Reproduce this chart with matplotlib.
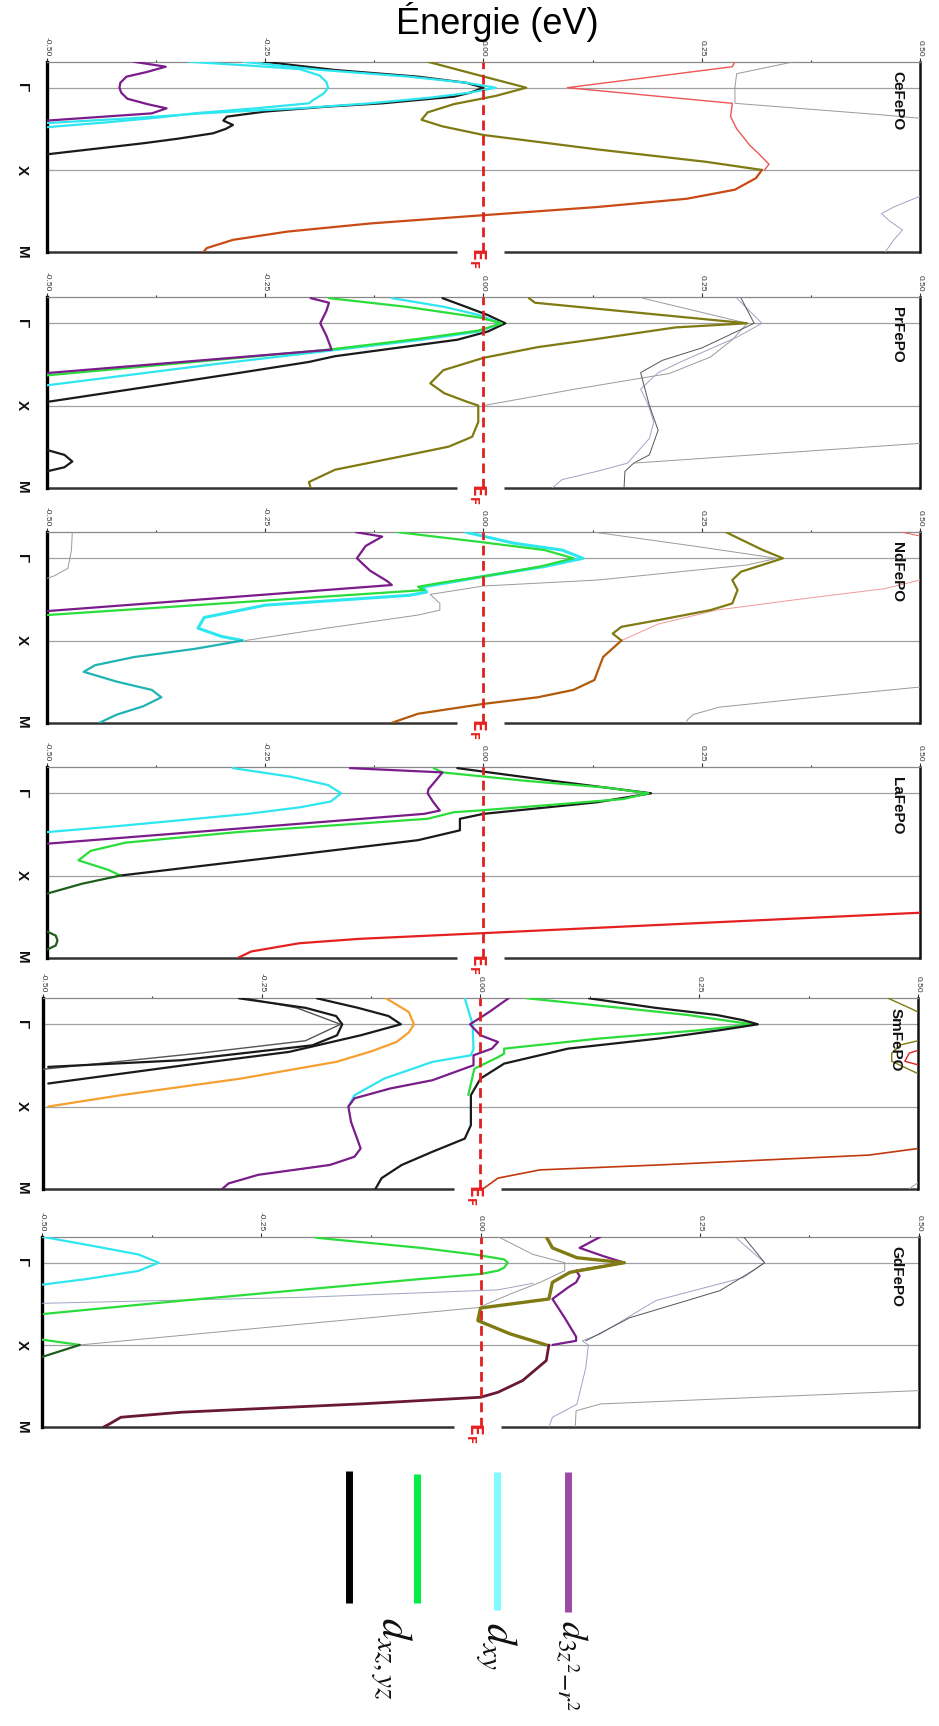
import matplotlib
matplotlib.use("Agg")
import matplotlib.pyplot as plt
from matplotlib.transforms import blended_transform_factory

plt.rcParams['font.family'] = ['Liberation Sans', 'DejaVu Sans']

# ---------------- labels ----------------
PANELS = ["CeFePO", "PrFePO", "NdFePO", "LaFePO", "SmFePO", "GdFePO"]
E_TICKS = [-0.5, -0.25, 0.0, 0.25, 0.5]
E_TICK_LABELS = ["-0.50", "-0.25", "0.00", "0.25", "0.50"]
E_MINOR = [-0.375, -0.125, 0.125, 0.375]
K_TICKS = [0, 1, 2]
K_LABELS = ["Γ", "X", "M"]
TITLE = "Énergie (eV)"
LEGEND_LABELS = [r"$d_{xz,yz}$", r"$d_{xy}$", r"$d_{3z^2\mathrm{-}r^2}$"]
LEGEND_COLORS = ["#000000", "#00ee44", "#80fbff", "#9d4aa4"]

# ---------------- colours ----------------
PURPLE = '#7a1c8a'; CYAN = '#2ee6f0'; GREEN = '#2add3a'; BLACK = '#1a1a1a'
OLIVE = '#7f7a12'; ORANGE_RED = '#c84a14'; RED_THIN = '#ee5555'; GRAY = '#9a9a9a'
BLUEGRAY = '#9ea4c4'; DARKGRAY = '#555555'; TEAL = '#1fb3b3'; BROWN = '#b05a0a'
PINK = '#f29a9a'; ORANGE = '#f5a030'; MAROON = '#6a1838'; DKGREEN = '#1d5e1d'
RED = '#e42020'; REDBROWN = '#c03a10'

# ================= CeFePO =================
ce_k_purple = [-0.316, -0.255, -0.19, -0.134, -0.06, 0, 0.06, 0.134, 0.20, 0.251, 0.312, 0.40]
ce_e_purple = [-0.401, -0.364, -0.386, -0.409, -0.416, -0.417, -0.415, -0.408, -0.385, -0.363, -0.38, -0.5]
ce_k_cyanA = [-0.316, -0.215, -0.134, -0.06, 0, 0.06, 0.12, 0.19, 0.25, 0.31, 0.37, 0.43]
ce_e_cyanA = [-0.276, -0.185, -0.085, -0.02, 0.014, -0.015, -0.06, -0.13, -0.21, -0.32, -0.40, -0.5]
ce_k_cyanB = [-0.316, -0.27, -0.227, -0.15, -0.07, 0, 0.07, 0.15, 0.19, 0.25, 0.31, 0.36, 0.42, 0.48]
ce_e_cyanB = [-0.338, -0.27, -0.211, -0.188, -0.18, -0.178, -0.183, -0.195, -0.20, -0.26, -0.33, -0.37, -0.43, -0.5]
ce_k_black = [-0.316, -0.215, -0.134, -0.06, 0, 0.06, 0.109, 0.19, 0.231, 0.29, 0.352, 0.40, 0.453, 0.50, 0.555, 0.62, 0.676, 0.81]
ce_e_black = [-0.252, -0.17, -0.075, -0.02, 0.0, -0.015, -0.034, -0.116, -0.18, -0.25, -0.294, -0.298, -0.287, -0.295, -0.31, -0.35, -0.39, -0.5]
ce_k_olive = [-0.316, -0.15, 0, 0.1, 0.2, 0.3, 0.39, 0.47, 0.575, 0.75, 0.9, 1.0]
ce_e_olive = [-0.064, -0.005, 0.049, 0.014, -0.034, -0.064, -0.071, -0.047, 0.0, 0.13, 0.254, 0.319]
ce_k_orange = [1.0, 1.1, 1.24, 1.35, 1.45, 1.55, 1.65, 1.75, 1.85, 1.95, 2.0]
ce_e_orange = [0.319, 0.312, 0.288, 0.233, 0.131, 0.0, -0.129, -0.225, -0.287, -0.317, -0.321]
ce_k_red = [-0.316, -0.255, 0, 0.19, 0.35, 0.5, 0.7, 0.8, 0.93, 1.0]
ce_e_red = [0.288, 0.285, 0.096, 0.285, 0.283, 0.29, 0.305, 0.315, 0.327, 0.322]
ce_k_gray = [-0.316, -0.25, -0.17, 0, 0.19, 0.33, 0.40]
ce_e_gray = [0.356, 0.326, 0.29, 0.288, 0.288, 0.456, 0.53]
ce_k_bgray = [1.28, 1.32, 1.45, 1.53, 1.62, 1.73, 1.85, 2.0]
ce_e_bgray = [0.53, 0.5, 0.47, 0.456, 0.465, 0.48, 0.47, 0.46]

# ================= PrFePO =================
pr_k_purple = [-0.306, -0.25, -0.15, 0, 0.15, 0.32, 0.605]
pr_e_purple = [-0.198, -0.177, -0.18, -0.187, -0.18, -0.174, -0.5]
pr_k_green = [-0.306, -0.2, -0.073, 0, 0.089, 0.19, 0.32, 0.633]
pr_e_green = [-0.177, -0.088, -0.006, 0.021, -0.006, -0.075, -0.177, -0.5]
pr_k_cyan = [-0.306, -0.2, -0.1, 0, 0.1, 0.2, 0.35, 0.5, 0.754]
pr_e_cyan = [-0.105, -0.045, -0.005, 0.02, -0.005, -0.07, -0.19, -0.31, -0.5]
pr_k_black = [-0.306, -0.2, -0.1, 0, 0.1, 0.2, 0.3, 0.4, 0.47, 0.6, 0.75, 0.956]
pr_e_black = [-0.047, -0.02, 0.005, 0.025, 0.005, -0.03, -0.10, -0.17, -0.20, -0.278, -0.371, -0.5]
pr_k_olive = [-0.306, -0.25, 0, 0.05, 0.19, 0.29, 0.42, 0.57, 0.73, 0.85, 0.95, 1.0, 1.2, 1.38, 1.5, 1.62, 1.78, 1.93, 2.0]
pr_e_olive = [0.052, 0.059, 0.302, 0.22, 0.13, 0.062, 0.0, -0.046, -0.061, -0.045, -0.02, -0.006, -0.006, -0.013, -0.04, -0.095, -0.17, -0.2, -0.198]
pr_k_graya = [-0.306, 0, 0.2, 0.41, 0.61, 0.8, 1.0]
pr_e_graya = [0.182, 0.302, 0.285, 0.26, 0.213, 0.105, 0.0]
pr_k_bgray = [-0.306, 0, 0.17, 0.45, 0.6, 0.8, 1.0, 1.2, 1.4, 1.7, 1.8, 1.9, 2.0]
pr_e_bgray = [0.29, 0.319, 0.29, 0.23, 0.2, 0.18, 0.189, 0.195, 0.19, 0.165, 0.13, 0.09, 0.079]
pr_k_dgray = [-0.306, 0, 0.15, 0.3, 0.45, 0.6, 0.8, 1.0, 1.3, 1.6, 1.7, 1.8, 2.0]
pr_e_dgray = [0.295, 0.31, 0.28, 0.25, 0.205, 0.18, 0.185, 0.19, 0.2, 0.19, 0.172, 0.162, 0.161]
pr_k_grayd = [1.46, 1.70]
pr_e_grayd = [0.5, 0.172]
pr_k_bump = [1.50, 1.54, 1.6, 1.68, 1.75, 1.80, 1.84]
pr_e_bump = [-0.53, -0.5, -0.48, -0.471, -0.48, -0.5, -0.53]

# ================= NdFePO =================
nd_k_grayl = [-0.317, -0.1, 0.122, 0.215, 0.244]
nd_e_grayl = [-0.471, -0.472, -0.476, -0.492, -0.5]
nd_k_purple = [-0.317, -0.264, -0.15, 0, 0.15, 0.28, 0.325, 0.642]
nd_e_purple = [-0.146, -0.116, -0.135, -0.145, -0.13, -0.11, -0.105, -0.5]
nd_k_green = [-0.317, -0.2, -0.1, 0, 0.1, 0.22, 0.3, 0.346, 0.386, 0.69]
nd_e_green = [-0.098, -0.005, 0.07, 0.103, 0.065, 0.0, -0.05, -0.075, -0.068, -0.5]
nd_k_cyan = [-0.317, -0.183, -0.1, 0, 0.1, 0.22, 0.35, 0.41, 0.45, 0.57, 0.72, 0.85, 0.95, 1.0]
nd_e_cyan = [-0.02, 0.035, 0.09, 0.114, 0.07, 0.0, -0.07, -0.065, -0.085, -0.25, -0.32, -0.327, -0.30, -0.276]
nd_k_teal = [1.0, 1.1, 1.2, 1.3, 1.38, 1.5, 1.6, 1.69, 1.8, 1.9, 2.0]
nd_e_teal = [-0.276, -0.33, -0.40, -0.445, -0.458, -0.42, -0.38, -0.369, -0.39, -0.42, -0.44]
nd_k_gray = [-0.317, -0.15, 0, 0.081, 0.264, 0.337, 0.439, 0.549, 0.63, 0.69, 0.85, 1.0]
nd_e_gray = [0.127, 0.24, 0.336, 0.302, 0.131, 0.0, -0.061, -0.05, -0.05, -0.075, -0.18, -0.273]
nd_k_olive = [-0.317, -0.264, -0.1, 0, 0.163, 0.264, 0.386, 0.549, 0.63, 0.752, 0.833, 0.915, 1.0]
nd_e_olive = [0.278, 0.288, 0.32, 0.343, 0.295, 0.285, 0.291, 0.285, 0.26, 0.2, 0.158, 0.148, 0.158]
nd_k_brown = [1.0, 1.2, 1.48, 1.6, 1.69, 1.77, 1.89, 2.0]
nd_e_brown = [0.158, 0.137, 0.127, 0.103, 0.062, 0.0, -0.075, -0.105]
nd_k_pink = [0.264, 0.37, 0.5, 0.63, 0.8, 1.0]
nd_e_pink = [0.5, 0.459, 0.36, 0.267, 0.2, 0.158]
nd_k_pinktop = [-0.317, -0.27, -0.22]
nd_e_pinktop = [0.48, 0.5, 0.52]
nd_k_grayr = [1.565, 1.7, 1.81, 1.9, 1.97, 2.0]
nd_e_grayr = [0.5, 0.37, 0.27, 0.24, 0.233, 0.233]

# ================= LaFePO =================
la_k_cyan = [-0.306, -0.2, -0.1, 0, 0.1, 0.17, 0.25, 0.33, 0.4, 0.472]
la_e_cyan = [-0.287, -0.22, -0.178, -0.163, -0.175, -0.21, -0.27, -0.35, -0.42, -0.5]
la_k_purple = [-0.306, -0.254, -0.15, -0.05, 0, 0.1, 0.21, 0.25, 0.4, 0.613]
la_e_purple = [-0.153, -0.047, -0.055, -0.063, -0.064, -0.058, -0.05, -0.068, -0.246, -0.5]
la_k_green = [-0.306, -0.254, -0.15, -0.07, 0, 0.07, 0.13, 0.21, 0.23, 0.31, 0.47, 0.6, 0.7, 0.815, 0.93, 1.0]
la_e_green = [-0.057, -0.047, 0.05, 0.14, 0.189, 0.16, 0.09, -0.006, -0.034, -0.064, -0.28, -0.41, -0.45, -0.464, -0.43, -0.416]
la_k_black = [-0.306, -0.15, 0, 0.109, 0.25, 0.31, 0.36, 0.45, 0.57, 0.75, 1.0]
la_e_black = [-0.03, 0.08, 0.192, 0.13, 0.0, -0.027, -0.027, -0.027, -0.075, -0.217, -0.416]
la_k_dkgreen = [1.0, 1.1, 1.22]
la_e_dkgreen = [-0.416, -0.46, -0.5]
la_k_bump = [1.64, 1.68, 1.73, 1.79, 1.85, 1.9, 1.94]
la_e_bump = [-0.53, -0.5, -0.49, -0.488, -0.49, -0.5, -0.53]
la_k_red = [1.452, 1.70, 1.77, 1.823, 1.923, 2.0]
la_e_red = [0.5, 0.0, -0.143, -0.211, -0.266, -0.281]

# ================= SmFePO =================
sm_k_blackA = [-0.316, -0.2, -0.1, 0, 0.134, 0.255, 0.35, 0.437, 0.518]
sm_e_blackA = [-0.276, -0.2, -0.165, -0.158, -0.164, -0.192, -0.27, -0.342, -0.494]
sm_k_blackB = [-0.316, -0.2, -0.1, 0, 0.134, 0.336, 0.5, 0.72]
sm_e_blackB = [-0.187, -0.14, -0.105, -0.091, -0.137, -0.219, -0.34, -0.494]
sm_k_blackC = [-0.316, -0.2, 0, 0.2, 0.35, 0.547]
sm_e_blackC = [-0.268, -0.21, -0.16, -0.2, -0.32, -0.5]
sm_k_orange = [-0.316, -0.15, 0, 0.1, 0.215, 0.33, 0.457, 0.66, 0.862, 1.0]
sm_e_orange = [-0.108, -0.082, -0.076, -0.082, -0.096, -0.125, -0.165, -0.274, -0.411, -0.494]
sm_k_cyan = [-0.316, 0, 0.3, 0.377, 0.457, 0.66, 0.862, 1.0]
sm_e_cyan = [-0.018, -0.009, -0.008, -0.011, -0.055, -0.11, -0.144, -0.151]
sm_k_purple = [-0.316, -0.15, 0, 0.134, 0.215, 0.296, 0.377, 0.498, 0.68, 0.78, 0.90, 1.0, 1.186, 1.39, 1.51, 1.61, 1.71, 1.83, 1.935, 2.0]
sm_e_purple = [0.032, 0.01, -0.012, 0.0, 0.02, 0.013, -0.008, -0.008, -0.055, -0.103, -0.144, -0.151, -0.148, -0.141, -0.137, -0.144, -0.172, -0.254, -0.288, -0.295]
sm_k_black = [-0.316, -0.2, -0.113, -0.05, 0, 0.073, 0.174, 0.296, 0.478, 0.66, 0.862, 1.227, 1.39, 1.55, 1.71, 1.87, 2.0]
sm_e_black = [0.124, 0.2, 0.27, 0.30, 0.317, 0.273, 0.203, 0.1, 0.027, 0.0, -0.011, -0.011, -0.018, -0.055, -0.09, -0.113, -0.12]
sm_k_green = [-0.316, -0.2, -0.113, 0, 0.073, 0.174, 0.296, 0.356, 0.4, 0.54, 0.86]
sm_e_green = [0.053, 0.16, 0.237, 0.31, 0.25, 0.135, 0.027, 0.027, 0.02, -0.007, -0.014]
sm_k_redbrown = [1.51, 1.59, 1.71, 1.77, 1.87, 2.0]
sm_e_redbrown = [0.5, 0.444, 0.204, 0.068, 0.02, 0.003]
sm_k_olivea = [-0.316, -0.2, -0.1]
sm_e_olivea = [0.466, 0.49, 0.51]
sm_k_oliveb = [0.15, 0.25, 0.35, 0.45, 0.55, 0.7]
sm_e_oliveb = [0.52, 0.48, 0.47, 0.47, 0.49, 0.52]
sm_k_redtop = [0.25, 0.35, 0.45, 0.55]
sm_e_redtop = [0.52, 0.49, 0.485, 0.52]
sm_k_grayr = [1.85, 2.0]
sm_e_grayr = [0.51, 0.49]

# ================= GdFePO =================
gd_k_cyan = [-0.316, -0.2, -0.1, 0, 0.1, 0.2, 0.267]
gd_e_cyan = [-0.5, -0.44, -0.39, -0.367, -0.39, -0.45, -0.5]
gd_k_green = [-0.304, -0.18, -0.1, -0.04, 0, 0.06, 0.097, 0.138, 0.198, 0.462, 0.623]
gd_e_green = [-0.188, -0.068, -0.007, 0.027, 0.031, 0.027, 0.02, 0.0, -0.068, -0.341, -0.498]
gd_k_gbump = [0.92, 1.0]
gd_e_gbump = [-0.51, -0.457]
gd_k_dgbump = [1.0, 1.18]
gd_e_dgbump = [-0.457, -0.51]
gd_k_gray1 = [-0.316, -0.1, 0, 0.097, 0.239, 0.381, 0.502, 0.543, 1.0]
gd_e_gray1 = [0.02, 0.06, 0.096, 0.096, 0.068, 0.034, 0.007, 0.0, -0.457]
gd_k_gray2 = [0.494, 0.42, 0.33, 0.25]
gd_e_gray2 = [-0.5, -0.2, 0.02, 0.06]
gd_k_olive = [-0.316, -0.18, -0.06, 0, 0.117, 0.239, 0.441, 0.551, 0.704, 0.866, 1.0]
gd_e_olive = [0.075, 0.082, 0.11, 0.164, 0.102, 0.082, 0.078, 0.0, -0.003, 0.034, 0.075]
gd_k_purple = [-0.316, -0.18, -0.08, 0, 0.097, 0.16, 0.239, 0.3, 0.441, 0.67, 0.9, 0.95, 1.0]
gd_e_purple = [0.137, 0.113, 0.14, 0.164, 0.109, 0.113, 0.109, 0.1, 0.082, 0.096, 0.109, 0.109, 0.082]
gd_k_maroon = [1.0, 1.19, 1.433, 1.575, 1.636, 1.717, 1.818, 1.879, 1.96, 2.0]
gd_e_maroon = [0.078, 0.075, 0.048, 0.02, 0.0, -0.137, -0.341, -0.41, -0.423, -0.43]
gd_k_bgray = [-0.316, 0, 0.18, 0.46, 0.87, 0.95, 1.0, 1.28, 1.72, 1.88, 2.0]
gd_e_bgray = [0.29, 0.324, 0.3, 0.2, 0.136, 0.116, 0.123, 0.12, 0.11, 0.082, 0.078]
gd_k_gray4 = [-0.316, 0, 0.1, 0.34, 0.67, 0.95]
gd_e_gray4 = [0.3, 0.324, 0.31, 0.273, 0.17, 0.12]
gd_k_gray5 = [1.555, 1.717, 1.8, 2.0]
gd_e_gray5 = [0.5, 0.137, 0.109, 0.108]

THICK = 1.6
THIN = 0.7

BANDS = {
    "CeFePO": [
        (ce_k_bgray, ce_e_bgray, BLUEGRAY, THIN), (ce_k_gray, ce_e_gray, GRAY, THIN),
        (ce_k_red, ce_e_red, RED_THIN, 1.0),
        (ce_k_olive, ce_e_olive, OLIVE, THICK), (ce_k_orange, ce_e_orange, ORANGE_RED, THICK),
        (ce_k_black, ce_e_black, BLACK, THICK), (ce_k_cyanB, ce_e_cyanB, CYAN, THICK),
        (ce_k_cyanA, ce_e_cyanA, CYAN, THICK), (ce_k_purple, ce_e_purple, PURPLE, THICK)],
    "PrFePO": [
        (pr_k_graya, pr_e_graya, GRAY, THIN), (pr_k_bgray, pr_e_bgray, BLUEGRAY, THIN),
        (pr_k_dgray, pr_e_dgray, DARKGRAY, THIN), (pr_k_grayd, pr_e_grayd, GRAY, THIN),
        (pr_k_olive, pr_e_olive, OLIVE, THICK), (pr_k_black, pr_e_black, BLACK, THICK),
        (pr_k_cyan, pr_e_cyan, CYAN, THICK), (pr_k_green, pr_e_green, GREEN, THICK),
        (pr_k_purple, pr_e_purple, PURPLE, THICK), (pr_k_bump, pr_e_bump, BLACK, THICK)],
    "NdFePO": [
        (nd_k_grayl, nd_e_grayl, GRAY, THIN), (nd_k_gray, nd_e_gray, GRAY, THIN),
        (nd_k_grayr, nd_e_grayr, GRAY, THIN), (nd_k_pink, nd_e_pink, PINK, THIN),
        (nd_k_pinktop, nd_e_pinktop, RED_THIN, THIN),
        (nd_k_olive, nd_e_olive, OLIVE, THICK), (nd_k_brown, nd_e_brown, BROWN, THICK),
        (nd_k_cyan, nd_e_cyan, CYAN, THICK + 0.6), (nd_k_teal, nd_e_teal, TEAL, THICK),
        (nd_k_green, nd_e_green, GREEN, THICK), (nd_k_purple, nd_e_purple, PURPLE, THICK)],
    "LaFePO": [
        (la_k_red, la_e_red, RED, THICK), (la_k_cyan, la_e_cyan, CYAN, THICK),
        (la_k_black, la_e_black, BLACK, THICK), (la_k_green, la_e_green, GREEN, THICK),
        (la_k_purple, la_e_purple, PURPLE, THICK), (la_k_dkgreen, la_e_dkgreen, DKGREEN, THICK),
        (la_k_bump, la_e_bump, DKGREEN, THICK)],
    "SmFePO": [
        (sm_k_olivea, sm_e_olivea, OLIVE, 1.0), (sm_k_oliveb, sm_e_oliveb, OLIVE, 1.0),
        (sm_k_redtop, sm_e_redtop, RED, 1.0), (sm_k_grayr, sm_e_grayr, BLUEGRAY, THIN),
        (sm_k_redbrown, sm_e_redbrown, REDBROWN, 1.2),
        (sm_k_blackC, sm_e_blackC, DARKGRAY, 1.0), (sm_k_blackA, sm_e_blackA, BLACK, THICK),
        (sm_k_blackB, sm_e_blackB, BLACK, THICK), (sm_k_orange, sm_e_orange, ORANGE, THICK),
        (sm_k_cyan, sm_e_cyan, CYAN, THICK), (sm_k_purple, sm_e_purple, PURPLE, THICK),
        (sm_k_green, sm_e_green, GREEN, THICK), (sm_k_black, sm_e_black, BLACK, THICK)],
    "GdFePO": [
        (gd_k_gray1, gd_e_gray1, GRAY, THIN), (gd_k_gray2, gd_e_gray2, BLUEGRAY, THIN),
        (gd_k_bgray, gd_e_bgray, BLUEGRAY, THIN), (gd_k_gray4, gd_e_gray4, DARKGRAY, THIN),
        (gd_k_gray5, gd_e_gray5, GRAY, THIN),
        (gd_k_cyan, gd_e_cyan, CYAN, THICK), (gd_k_green, gd_e_green, GREEN, THICK),
        (gd_k_gbump, gd_e_gbump, GREEN, THICK), (gd_k_dgbump, gd_e_dgbump, DKGREEN, THICK),
        (gd_k_purple, gd_e_purple, PURPLE, THICK), (gd_k_olive, gd_e_olive, OLIVE, THICK + 0.8),
        (gd_k_maroon, gd_e_maroon, MAROON, THICK + 0.4)],
}

# ---------------- layout (pixels) ----------------
FIG_W, FIG_H = 939, 1726
PANEL_TOP_PX = [61.7, 297.3, 532.3, 767.3, 998.3, 1236.7]
PANEL_H_PX = 190.5
PANEL_LEFT_PX = [47, 47, 47, 47, 43, 42]
PANEL_RIGHT_PX = [920, 920, 920, 920, 918, 919]
K_TOP = -0.316
K_BOTTOM = 2.0

fig = plt.figure(figsize=(FIG_W / 100, FIG_H / 100), dpi=100)
fig.text(497 / FIG_W, 1 - 22 / FIG_H, TITLE, ha='center', va='center', fontsize=26)

for i, name in enumerate(PANELS):
    l = PANEL_LEFT_PX[i] / FIG_W
    w = (PANEL_RIGHT_PX[i] - PANEL_LEFT_PX[i]) / FIG_W
    b = 1 - (PANEL_TOP_PX[i] + PANEL_H_PX) / FIG_H
    h = PANEL_H_PX / FIG_H
    ax = fig.add_axes([l, b, w, h])
    ax.set_xlim(-0.5, 0.5)
    ax.set_ylim(K_BOTTOM, K_TOP)

    for kk in K_TICKS[:2]:
        ax.axhline(kk, color='#a0a0a0', lw=0.9, zorder=1)

    for (kv, ev, col, lw) in BANDS[name]:
        ax.plot(ev, kv, color=col, lw=lw, solid_joinstyle='round',
                solid_capstyle='round', zorder=3)

    ax.axvline(0.0, color='#e02020', lw=2.0, linestyle=(0, (3.5, 2.0)), zorder=5)

    # axes frame
    ax.xaxis.tick_top()
    ax.set_xticks(E_TICKS)
    ax.set_xticklabels(E_TICK_LABELS, rotation=270, fontsize=6, color='#333333')
    ax.set_xticks(E_MINOR, minor=True)
    ax.tick_params(axis='x', which='major', direction='out', length=3.0, width=0.8,
                   pad=1, colors='#333333')
    ax.tick_params(axis='x', which='minor', direction='out', length=1.2, width=0.8,
                   colors='#333333')
    ax.set_yticks([])
    ax.spines['top'].set_color('#888888'); ax.spines['top'].set_linewidth(0.9)
    ax.spines['left'].set_color('#000000'); ax.spines['left'].set_linewidth(2.4)
    ax.spines['right'].set_color('#111111'); ax.spines['right'].set_linewidth(1.8)
    ax.spines['bottom'].set_visible(False)
    ax.plot([0, 0.47], [0, 0], transform=ax.transAxes, color='#333333', lw=1.8,
            clip_on=False, solid_capstyle='butt')
    ax.plot([0.523, 1], [0, 0], transform=ax.transAxes, color='#333333', lw=1.8,
            clip_on=False, solid_capstyle='butt')

    # E_F label
    trEF = blended_transform_factory(ax.transData, ax.transAxes)
    ax.text(-0.006, 0.025, r'$\mathbf{E}_{\mathbf{F}}$', transform=trEF, rotation=270,
            ha='center', va='top', color='#e82020', fontsize=12.5,
            math_fontfamily='dejavusans', clip_on=False, zorder=6)

    # k labels
    trK = blended_transform_factory(fig.transFigure, ax.transData)
    for kk, lab in zip(K_TICKS, K_LABELS):
        ax.text(22 / FIG_W, kk, lab, transform=trK, rotation=270, ha='center',
                va='center', fontsize=11, fontweight='bold', color='#111111')

    # panel name
    trN = blended_transform_factory(ax.transAxes, ax.transData)
    ax.text(0.974, -0.2, name, transform=trN, rotation=270, ha='center', va='top',
            fontsize=11, fontweight='bold', color='#111111')

# ---------------- legend ----------------
lax = fig.add_axes([0, 0, 1, 1])
lax.set_xlim(0, FIG_W)
lax.set_ylim(FIG_H, 0)
lax.axis('off')
LEG_X_PX = [349, 417, 497, 568]
LEG_Y0_PX = [1471, 1474, 1472, 1472]
LEG_Y1_PX = [1603, 1603, 1610, 1612]
for x, y0, y1, c in zip(LEG_X_PX, LEG_Y0_PX, LEG_Y1_PX, LEGEND_COLORS):
    lax.plot([x, x], [y0, y1], color=c, lw=5, solid_capstyle='butt')
LEG_TX_PX = [391, 496, 571]
LEG_TY_PX = [1617, 1622, 1620]
LEG_FS = [30, 30, 26]
for x, y, s, fs in zip(LEG_TX_PX, LEG_TY_PX, LEGEND_LABELS, LEG_FS):
    lax.text(x, y, s, rotation=270, ha='center', va='top', fontsize=fs,
             math_fontfamily='stix', color='#111111')

fig.savefig("out.png", dpi=100)
